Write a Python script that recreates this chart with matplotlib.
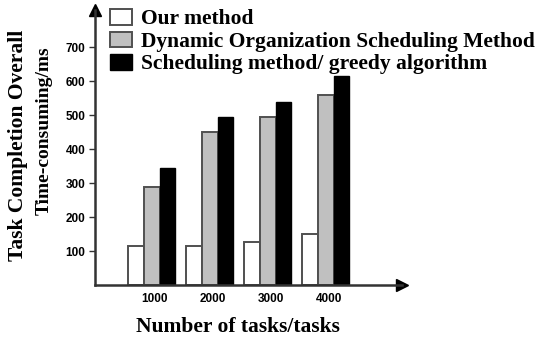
import matplotlib
matplotlib.use("Agg")
import matplotlib.pyplot as plt
import numpy as np

categories = ["1000", "2000", "3000", "4000"]
series_names = ["Our method", "Dynamic Organization Scheduling Method",
                "Scheduling method/ greedy algorithm"]
our_method = [115, 115, 128, 150]
dynamic_org = [290, 450, 495, 560]
greedy = [345, 495, 540, 615]
y_ticks = [100, 200, 300, 400, 500, 600, 700]

fig = plt.figure(figsize=(5.5, 3.4), dpi=100)
ax = fig.add_axes([95/550, (340-285)/340, (402-95)/550, (285-10)/340])

x = np.arange(len(categories))
w = 0.27
edge = "#505050"
b1 = ax.bar(x - w, our_method, w, color="white", edgecolor=edge, linewidth=1.4)
b2 = ax.bar(x, dynamic_org, w, color="#c0c0c0", edgecolor=edge, linewidth=1.4)
b3 = ax.bar(x + w, greedy, w, color="black", edgecolor="black", linewidth=1.0)

ax.set_xlim(-0.98, 4.31)
ax.set_ylim(0, 810)
for s in ["top", "right"]:
    ax.spines[s].set_visible(False)
for s in ["left", "bottom"]:
    ax.spines[s].set_color("#333333")
    ax.spines[s].set_linewidth(1.8)

ax.plot([1], [0], marker=">", color="black", markersize=8, transform=ax.transAxes, clip_on=False)
ax.plot([0], [1], marker="^", color="black", markersize=8, transform=ax.transAxes, clip_on=False)

ax.set_yticks(y_ticks)
ax.set_yticklabels([str(v) for v in y_ticks], fontfamily="Liberation Sans",
                   fontweight="bold", fontsize=8.5)
ax.tick_params(axis="y", length=4, width=1, color="#333333", pad=3)
ax.set_xticks(x + 0.05)
ax.set_xticklabels(categories, fontfamily="Liberation Sans", fontweight="bold", fontsize=8.5)
ax.tick_params(axis="x", length=0, pad=6)

serif = dict(fontfamily="Liberation Serif", fontweight="bold")
fig.text(238/550, 1 - 327/340, "Number of tasks/tasks", ha="center", va="center",
         fontsize=15.5, **serif)
fig.text(18/550, 1 - 145/340, "Task Completion Overall", ha="center", va="center",
         rotation=90, fontsize=15.5, **serif)
fig.text(44/550, 1 - 131/340, "Time-consuming/ms", ha="center", va="center",
         rotation=90, fontsize=14, **serif)

leg = fig.legend([b1, b2, b3], series_names, loc="upper left",
                 bbox_to_anchor=(110/550, 1 - 9/340), frameon=False,
                 prop=dict(family="Liberation Serif", weight="bold", size=15.5),
                 handlelength=1.0, handleheight=0.75, handletextpad=0.45,
                 labelspacing=0.1, borderpad=0, borderaxespad=0)

fig.savefig("out.png", dpi=100)
